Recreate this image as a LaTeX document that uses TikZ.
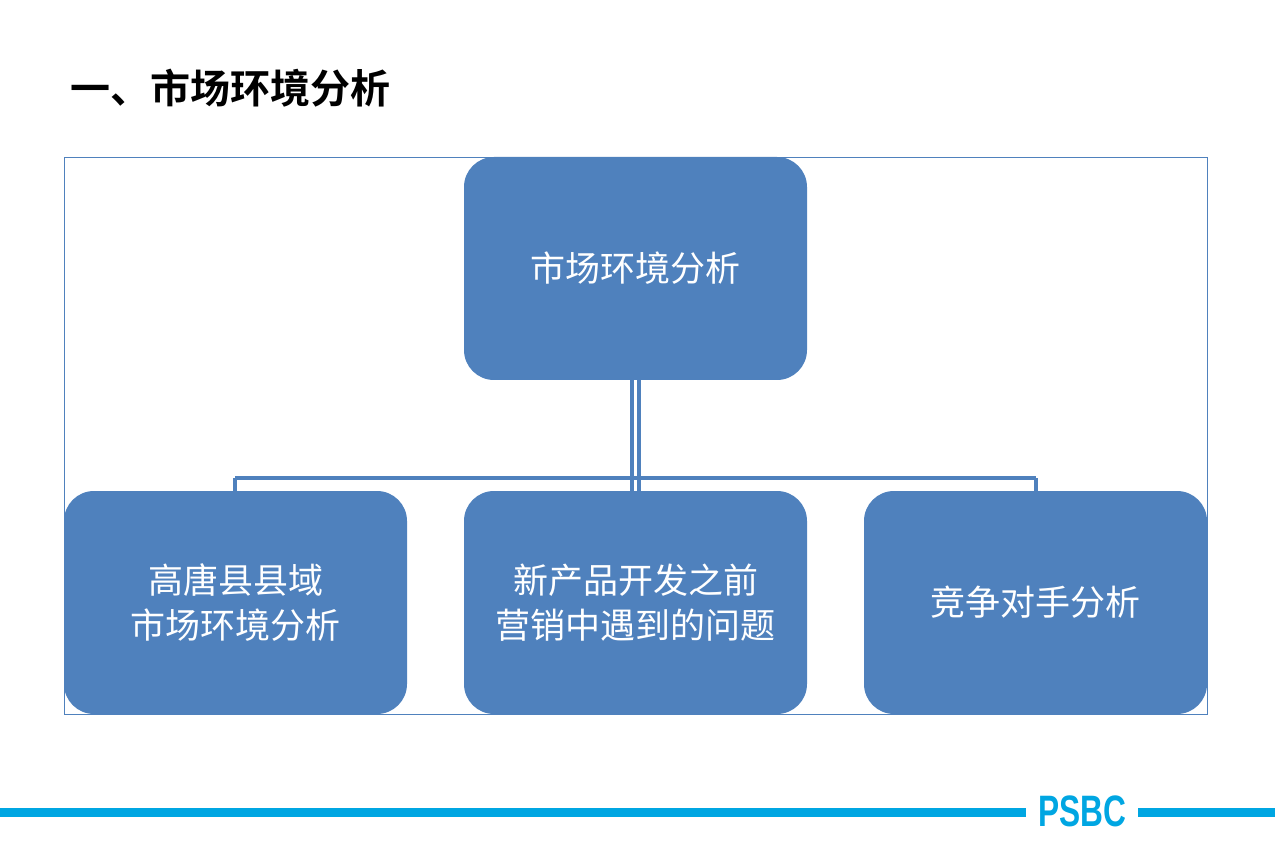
\documentclass[tikz,border=0pt]{standalone}
\usepackage{fontspec}
\setmainfont{Liberation Sans}
\newfontfamily\cjk{Noto Sans CJK SC}
\newfontfamily\cjkb{Noto Sans CJK SC Bold}
\definecolor{boxblue}{HTML}{4F81BD}
\definecolor{barblue}{HTML}{00A6E2}
\tikzset{box/.style={fill=boxblue,draw=none,rounded corners=30pt,minimum width=343pt,minimum height=223pt,text=white,font=\cjk\fontsize{35}{45}\selectfont,align=center,inner sep=0pt},
conn/.style={draw=boxblue,line width=3.5pt}}
\begin{document}
\begin{tikzpicture}[x=1pt,y=-1pt]
\useasboundingbox (0,0) rectangle (1275,850);
\draw[boxblue,line width=0.8pt] (64,157) rectangle (1207,714);
\node[anchor=west,font=\cjkb\fontsize{40}{44}\selectfont,inner sep=0pt] (title) at (70,88) {一、市场环境分析};
\node[box] (top) at (635.5,268.5) {市场环境分析};
\node[box] (l) at (235.5,602.5) {高唐县县域\\市场环境分析};
\node[box] (m) at (635.5,602.5) {新产品开发之前\\营销中遇到的问题};
\node[box] (r) at (1035.5,602.5) {竞争对手分析};
\coordinate (hl) at (235,478);
\coordinate (hr) at (1036,478);
\draw[conn] (hl) -- (hr);
\draw[conn] (hl) -- (l.north -| hl);
\draw[conn] (hr) -- (r.north -| hr);
\draw[conn] ([xshift=-3.5pt]top.south) -- ([xshift=-3.5pt]m.north);
\draw[conn] ([xshift=3.5pt]top.south) -- ([xshift=3.5pt]m.north);
\fill[barblue] (0,808) rectangle (1026,817);
\fill[barblue] (1138,808) rectangle (1275,817);
\node[font=\bfseries\fontsize{44}{44}\selectfont,text=barblue,xscale=0.72,inner sep=0pt] (logo) at (1082,811) {PSBC};
\end{tikzpicture}
\end{document}
